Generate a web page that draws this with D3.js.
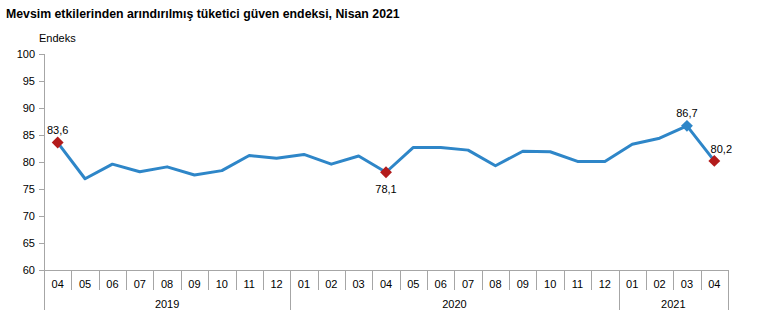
<!DOCTYPE html>
<html><head><meta charset="utf-8">
<script src="https://cdn.jsdelivr.net/npm/d3@7"></script>
<style>
body{margin:0;background:#fff;}
svg{display:block;font-family:"Liberation Sans",Arial,sans-serif;}
</style></head>
<body>
<svg id="c" width="758" height="322"></svg>
<script>
const months = ["04","05","06","07","08","09","10","11","12","01","02","03","04","05","06","07","08","09","10","11","12","01","02","03","04"];
const years = ["2019","2020","2021"];
const yearSpans = [9, 12, 4];
const values = [83.6,76.9,79.6,78.2,79.1,77.6,78.4,81.2,80.7,81.4,79.6,81.1,78.1,82.7,82.7,82.2,79.3,82.0,81.9,80.1,80.1,83.3,84.4,86.7,80.2];
const yTicks = [60,65,70,75,80,85,90,95,100];
const labelled = [{i:0,text:"83,6",pos:"above"},{i:12,text:"78,1",pos:"below"},{i:23,text:"86,7",pos:"above"},{i:24,text:"80,2",pos:"aboveright"}];
const redMarks = [0,12,24];
const blueMarks = [23];

const svg = d3.select("#c");
const L = 44, R = 728, T = 54, B = 270;
const idx = months.map((m,i)=>i);
const x = d3.scaleBand().domain(idx).range([L,R]);
const y = d3.scaleLinear().domain([60,100]).range([B,T]);
const axisColor = "#a6a6a6";

svg.append("text").attr("x",6).attr("y",18).attr("font-size",12.3).attr("font-weight","bold").attr("fill","#000")
  .text("Mevsim etkilerinden arındırılmış tüketici güven endeksi, Nisan 2021");
svg.append("text").attr("x",39).attr("y",42).attr("font-size",11).attr("fill","#000").text("Endeks");

// y axis
const ya = svg.append("g").attr("transform",`translate(${L},0)`)
  .call(d3.axisLeft(y).tickValues(yTicks).tickSize(5).tickPadding(4).tickFormat(d3.format("d")));
ya.select(".domain").remove();
ya.selectAll(".tick line").attr("stroke",axisColor);
ya.selectAll(".tick text").attr("font-size",11).attr("fill","#000").attr("font-family","Liberation Sans, Arial, sans-serif");
svg.append("line").attr("x1",L+0.5).attr("x2",L+0.5).attr("y1",T).attr("y2",310).attr("stroke",axisColor);

// x axis
svg.append("line").attr("x1",L).attr("x2",R).attr("y1",B+0.5).attr("y2",B+0.5).attr("stroke",axisColor);
const bw = x.bandwidth();
idx.forEach(i=>{
  const xr = Math.round(x(i)+bw)+0.5;
  svg.append("line").attr("x1",xr).attr("x2",xr).attr("y1",B).attr("y2",290).attr("stroke",axisColor);
  svg.append("text").attr("x",x(i)+bw/2).attr("y",288).attr("text-anchor","middle").attr("font-size",11).attr("fill","#000").text(months[i]);
});
let start = 0;
years.forEach((yr,k)=>{
  const end = start + yearSpans[k];
  const x0 = x(start), x1 = x(end-1)+bw;
  const xr = Math.round(x1)+0.5;
  svg.append("line").attr("x1",xr).attr("x2",xr).attr("y1",B).attr("y2",310).attr("stroke",axisColor);
  svg.append("text").attr("x",(x0+x1)/2).attr("y",308).attr("text-anchor","middle").attr("font-size",11).attr("fill","#000").text(yr);
  start = end;
});

// line
const line = d3.line().x((d,i)=>x(i)+bw/2).y(d=>y(d));
svg.append("path").datum(values).attr("d",line).attr("fill","none").attr("stroke","#2e86c8").attr("stroke-width",3).attr("stroke-linejoin","round");

const diamond = d3.symbol().type(d3.symbolDiamond2).size(90);
function mark(i,color){
  svg.append("path").attr("d",diamond).attr("transform",`translate(${x(i)+bw/2},${y(values[i])})`).attr("fill",color);
}
redMarks.forEach(i=>mark(i,"#b31b1b"));
blueMarks.forEach(i=>mark(i,"#2e86c8"));

labelled.forEach(l=>{
  const cx = x(l.i)+bw/2, cy = y(values[l.i]);
  let tx = cx, ty = cy-9, anchor="middle";
  if(l.pos==="below"){ty = cy+21;}
  if(l.pos==="aboveright"){tx = cx+7; ty = cy-8;}
  svg.append("text").attr("x",tx).attr("y",ty).attr("text-anchor",anchor).attr("font-size",11).attr("fill","#000").text(l.text);
});
</script>
</body></html>
